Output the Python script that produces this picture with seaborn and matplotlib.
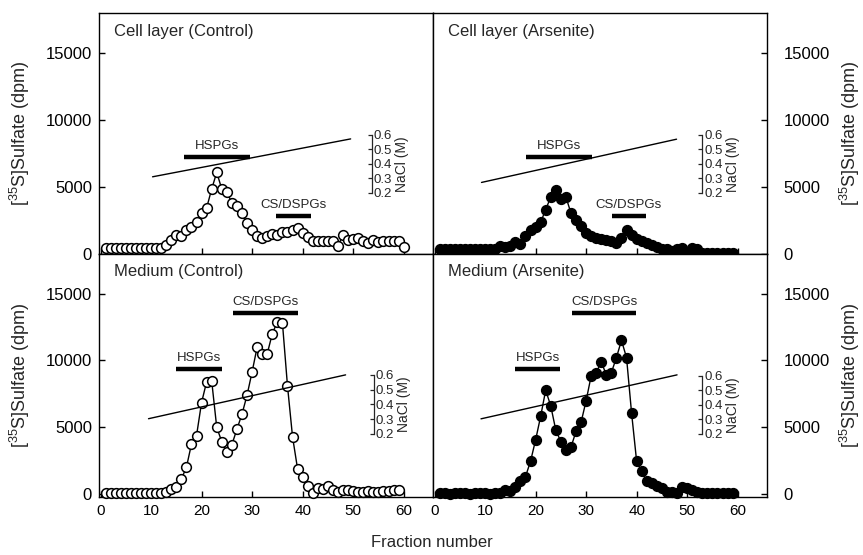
import matplotlib
matplotlib.use('Agg')
import matplotlib.pyplot as plt
import seaborn as sns
import pandas as pd

# ---------------- data ----------------
cell_control = [380, 400, 390, 400, 410, 400, 390, 400, 400, 410, 400, 420,
                670, 995, 1370, 1290, 1790, 1990, 2340, 3030, 3410, 4825, 6070,
                4825, 4600, 3780, 3530, 3030, 2290, 1740, 1290, 1170, 1290, 1470,
                1420, 1590, 1640, 1740, 1920, 1540, 1220, 920, 920, 920, 920, 920,
                545, 1420, 1045, 1090, 1170, 920, 750, 1040, 870, 920, 970, 920,
                920, 470]
cell_arsenite = [350, 340, 350, 360, 350, 340, 350, 350, 360, 350, 350, 360,
                 550, 450, 550, 850, 700, 1290, 1790, 1990, 2340, 3280, 4230,
                 4730, 4080, 4230, 3030, 2540, 2090, 1540, 1290, 1170, 1120, 1040,
                 920, 750, 1170, 1790, 1420, 1100, 920, 750, 600, 500, 350, 300,
                 170, 300, 420, 100, 420, 350, 50, 50, 40, 50, 50, 40, 50]
medium_control = [60, 50, 60, 60, 50, 60, 60, 50, 60, 60, 50, 60, 150,
                  400, 560, 1130, 2000, 3740, 4370, 6850, 8400, 8470, 4990, 3920,
                  3120, 3700, 4860, 5980, 7400, 9140, 11000, 10510, 10510, 12000,
                  12900, 12820, 8100, 4290, 1880, 1250, 630, 60, 460, 380, 630,
                  300, 120, 300, 300, 200, 150, 150, 200, 150, 150, 200, 250, 300,
                  300]
medium_arsenite = [50, 50, 40, 50, 50, 50, 40, 50, 50, 50, 40, 50, 60,
                   280, 200, 500, 1010, 1300, 2450, 4040, 5810, 7770, 6600, 4790,
                   3920, 3300, 3500, 4690, 5360, 6980, 8840, 9090, 9890, 8920,
                   9090, 10210, 11500, 10210, 6060, 2450, 1700, 960, 810, 630, 460,
                   130, 130, 60, 560, 460, 300, 130, 60, 60, 50, 60, 60, 50, 60]

series = [cell_control, cell_arsenite, medium_control, medium_arsenite]
panel_titles = ['Cell layer (Control)', 'Cell layer (Arsenite)',
                'Medium (Control)', 'Medium (Arsenite)']
filled = [False, True, False, True]

# NaCl gradient (fraction number, molarity) per panel
grad_fraction = [[10.3, 49.5], [9.3, 47.9], [9.5, 48.5], [9.2, 48.0]]
grad_nacl = [[0.310, 0.572], [0.271, 0.570], [0.302, 0.600], [0.303, 0.607]]
nacl_ticks = [0.2, 0.3, 0.4, 0.5, 0.6]

# pooled fraction ranges
hspg_range = [(16.5, 29.6), (18.1, 31.1), (15.0, 24.0), (15.9, 24.9)]
hspg_level = [7250, 7250, 9366, 9366]
cs_range = [(34.8, 41.6), (35.1, 41.8), (26.3, 39.0), (27.2, 39.9)]
cs_level = [2836, 2836, 13545, 13545]

x_ticks = [0, 10, 20, 30, 40, 50, 60]
y_ticks = [0, 5000, 10000, 15000]

# ---------------- layout / style ----------------
nacl_axis_x = [53.7, 53.0, 54.1, 53.0]
nacl_axis_dpm = [(4550, 8880), (4550, 8880), (4515, 8918), (4515, 8843)]
ylims = [(0, 18000), (0, 18000), (-220, 18000), (-220, 18000)]

sns.set_style('ticks')
plt.rcParams['font.family'] = ['Liberation Sans', 'DejaVu Sans']
plt.rcParams['mathtext.fontset'] = 'custom'
plt.rcParams['mathtext.rm'] = 'Liberation Sans'
plt.rcParams['mathtext.it'] = 'Liberation Sans:italic'
plt.rcParams['mathtext.bf'] = 'Liberation Sans:bold'

fig = plt.figure(figsize=(8.63, 5.55), dpi=100)
L, M, R = 99 / 863, 433 / 863, 767 / 863
T, C, B = 1 - 13 / 555, 1 - 253.5 / 555, 1 - 497 / 555
rects = [(L, C, M - L, T - C), (M, C, R - M, T - C),
         (L, B, M - L, C - B), (M, B, R - M, C - B)]

for i in range(4):
    ax = fig.add_axes(rects[i])
    vals = series[i]
    df = pd.DataFrame({'fraction': list(range(1, len(vals) + 1)), 'dpm': vals})
    sns.lineplot(data=df, x='fraction', y='dpm', ax=ax, color='black', lw=1,
                 marker='o', ms=7, mfc='black' if filled[i] else 'white',
                 mec='black', mew=1.1, zorder=3, clip_on=False)
    ax.hlines(hspg_level[i], *hspg_range[i], color='black', lw=3.2)
    ax.hlines(cs_level[i], *cs_range[i], color='black', lw=3.2)
    ax.annotate('HSPGs', xy=(sum(hspg_range[i]) / 2, hspg_level[i]),
                xytext=(0, 3.5), textcoords='offset points', ha='center',
                va='bottom', fontsize=9.5)
    ax.annotate('CS/DSPGs', xy=(sum(cs_range[i]) / 2, cs_level[i]),
                xytext=(0, 3.5), textcoords='offset points', ha='center',
                va='bottom', fontsize=9.5)
    ax.text(0.045, 0.925, panel_titles[i], transform=ax.transAxes,
            ha='left', va='center', fontsize=12)

    # NaCl gradient on a twin scale
    tw = ax.twinx()
    sns.lineplot(x=grad_fraction[i], y=grad_nacl[i], ax=tw, color='black', lw=1)
    ax.set_xlim(-0.3, 65.8)
    ax.set_ylim(*ylims[i])
    lo, hi = nacl_axis_dpm[i]
    k = 0.4 / (hi - lo)
    y0, y1 = ylims[i]
    t0, t1 = 0.2 + (y0 - lo) * k, 0.2 + (y1 - lo) * k
    tw.set_ylim(t0, t1)
    for s in ['top', 'bottom', 'left']:
        tw.spines[s].set_visible(False)
    tw.spines['right'].set_position(('data', nacl_axis_x[i]))
    tw.spines['right'].set_bounds(0.2, 0.6)
    tw.spines['right'].set_linewidth(0.9)
    tw.set_yticks(nacl_ticks)
    tw.set_yticklabels([f'{v:.1f}' for v in nacl_ticks])
    tw.tick_params(axis='y', direction='in', length=3, width=0.9,
                   labelsize=9.5, pad=1.5)
    tw.set_ylabel('NaCl (M)', fontsize=10, labelpad=2)
    tw.yaxis.label.set_y((0.4 - t0) / (t1 - t0))

    # main axes styling
    ax.set_xticks(x_ticks)
    ax.set_yticks(y_ticks)
    for s in ax.spines.values():
        s.set_visible(True)
        s.set_linewidth(1)
        s.set_color('black')
    ax.tick_params(direction='in', length=4, width=1, colors='black')
    ax.tick_params(axis='x', labelsize=11, pad=5, top=False)
    ax.tick_params(axis='y', labelsize=12)
    ax.set_xlabel('')
    if i < 2:
        ax.tick_params(axis='x', labelbottom=False)
    if i % 2 == 1:
        ax.yaxis.tick_right()
        ax.yaxis.set_label_position('right')
        ax.tick_params(axis='y', direction='in', length=4, width=1,
                       labelsize=12, pad=12, left=False, right=True)
        ax.set_ylabel(r'[$^{35}$S]Sulfate (dpm)', fontsize=13, labelpad=6)
    else:
        ax.tick_params(axis='y', pad=5, left=True, right=False)
        ax.set_ylabel(r'[$^{35}$S]Sulfate (dpm)', fontsize=13, labelpad=10)

fig.text(0.5, 0.022, 'Fraction number', ha='center', va='center', fontsize=12)
fig.savefig('out.png', dpi=100)
